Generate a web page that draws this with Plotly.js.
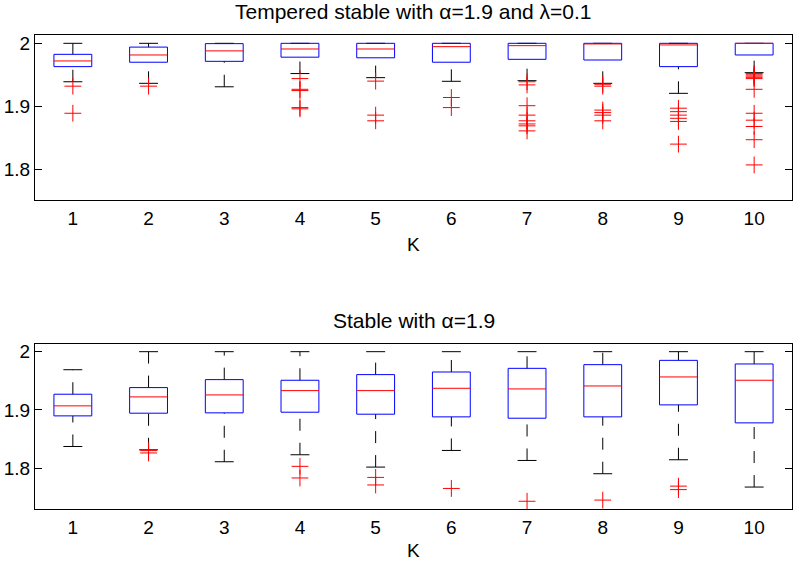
<!DOCTYPE html>
<html><head><meta charset="utf-8">
<script src="https://cdn.plot.ly/plotly-3.0.1.min.js"></script>
<style>html,body{margin:0;padding:0;background:#fff}</style>
</head><body><div id="chart" style="width:795px;height:561px"></div>
<script>
// ---- data ----
const K = [1,2,3,4,5,6,7,8,9,10];
const kLabels = ['1','2','3','4','5','6','7','8','9','10'];
const yTickVals = [1.8, 1.9, 2];
const yTickText = ['1.8', '1.9', '2'];

// Top panel: Tempered stable with alpha=1.9, lambda=0.1
const tsUpper  = [2.0, 2.0, 2.0, 2.0, 2.0, 2.0, 2.0, 2.0, 2.0, 2.0];
const tsQ3     = [1.9825, 1.994, 1.9995, 2.0, 2.0, 2.0, 2.0, 2.0, 2.0, 2.0];
const tsMedian = [1.972, 1.9815, 1.988, 1.991, 1.991, 1.9947, 1.9963, 1.999, 1.9974, 2.0];
const tsQ1     = [1.963, 1.970, 1.9714, 1.978, 1.977, 1.970, 1.9746, 1.9735, 1.963, 1.9815];
const tsLower  = [1.939, 1.9365, 1.931, 1.952, 1.9455, 1.9397, 1.9407, 1.9365, 1.9206, 1.9534];
const tsOutliers = [
  [1.932, 1.889],
  [1.932],
  [],
  [1.944, 1.927, 1.925, 1.898, 1.896],
  [1.940, 1.886, 1.877],
  [1.914, 1.898],
  [1.939, 1.934, 1.901, 1.886, 1.877, 1.872, 1.869, 1.861],
  [1.935, 1.932, 1.894, 1.890, 1.886, 1.877],
  [1.897, 1.8915, 1.886, 1.881, 1.876, 1.840],
  [1.952, 1.950, 1.948, 1.946, 1.944, 1.927, 1.889, 1.878, 1.868, 1.847, 1.807]
];

// Bottom panel: Stable with alpha=1.9
const sUpper  = [1.969, 2.0, 2.0, 2.0, 2.0, 2.0, 2.0, 2.0, 2.0, 2.0];
const sQ3     = [1.9269, 1.9383, 1.952, 1.9509, 1.9606, 1.9651, 1.9714, 1.9777, 1.9851, 1.9789];
const sMedian = [1.9069, 1.9223, 1.9257, 1.9331, 1.9331, 1.9371, 1.936, 1.9411, 1.9566, 1.9509];
const sQ1     = [1.8897, 1.8943, 1.8949, 1.896, 1.8926, 1.888, 1.8857, 1.888, 1.9086, 1.8777];
const sLower  = [1.8371, 1.8314, 1.8109, 1.8229, 1.8017, 1.8303, 1.8131, 1.7903, 1.8143, 1.7674];
const sOutliers = [
  [], [1.830, 1.826], [], [1.803, 1.783], [1.784, 1.771],
  [1.765], [1.743], [1.745], [1.769, 1.763], []
];

// ---- styles ----
const FONT = 'Liberation Sans, Arial, Helvetica, sans-serif';
const BOX_HW = 0.25, CAP_HW = 0.125;

function panelTraces(up, q3, med, q1, lo, outs, xa, ya) {
  const traces = [];
  // whiskers (dashed), each drawn from low value to high value
  K.forEach((k, i) => {
    if (q1[i] > lo[i]) traces.push({x:[k,k], y:[lo[i], q1[i]], xaxis:xa, yaxis:ya, mode:'lines',
      line:{color:'#000', width:1, dash:'12px,12px'}, hoverinfo:'skip'});
    if (up[i] > q3[i]) traces.push({x:[k,k], y:[q3[i], up[i]], xaxis:xa, yaxis:ya, mode:'lines',
      line:{color:'#000', width:1, dash:'12px,12px'}, hoverinfo:'skip'});
  });
  // caps
  const cx = [], cy = [];
  K.forEach((k, i) => {
    cx.push(k-CAP_HW, k+CAP_HW, null, k-CAP_HW, k+CAP_HW, null);
    cy.push(up[i], up[i], null, lo[i], lo[i], null);
  });
  traces.push({x:cx, y:cy, xaxis:xa, yaxis:ya, mode:'lines', line:{color:'#000', width:1}, hoverinfo:'skip'});
  // boxes
  const bx = [], by = [];
  K.forEach((k, i) => {
    bx.push(k-BOX_HW, k+BOX_HW, k+BOX_HW, k-BOX_HW, k-BOX_HW, null);
    by.push(q1[i], q1[i], q3[i], q3[i], q1[i], null);
  });
  traces.push({x:bx, y:by, xaxis:xa, yaxis:ya, mode:'lines', line:{color:'#0000ff', width:1}, hoverinfo:'skip'});
  // medians
  const mx = [], my = [];
  K.forEach((k, i) => {
    mx.push(k-BOX_HW, k+BOX_HW, null);
    my.push(med[i], med[i], null);
  });
  traces.push({x:mx, y:my, xaxis:xa, yaxis:ya, mode:'lines', line:{color:'#ff0000', width:1}, hoverinfo:'skip'});
  // outliers
  const ox = [], oy = [];
  K.forEach((k, i) => outs[i].forEach(v => { ox.push(k); oy.push(v); }));
  traces.push({x:ox, y:oy, xaxis:xa, yaxis:ya, mode:'markers',
    marker:{symbol:'cross-thin-open', size:12, color:'#ff0000', line:{color:'#ff0000', width:1}}});
  return traces;
}

const data = [].concat(
  panelTraces(tsUpper, tsQ3, tsMedian, tsQ1, tsLower, tsOutliers, 'x', 'y'),
  panelTraces(sUpper, sQ3, sMedian, sQ1, sLower, sOutliers, 'x2', 'y2')
);

const TOP_DOM = [0.6519, 1];
const BOT_DOM = [0, 0.3481];

function xAxis(anchor) {
  return {anchor:anchor, domain:[0,1], range:[0.5,10.5], tickmode:'array', tickvals:K, ticktext:kLabels,
    ticks:'', showline:true, mirror:true, linecolor:'#000', linewidth:1, showgrid:false, zeroline:false,
    tickfont:{family:FONT, size:19, color:'#000'}, ticklabelstandoff:1, fixedrange:true};
}
function yAxis(anchor, dom, range) {
  return {anchor:anchor, domain:dom, range:range, tickmode:'array', tickvals:yTickVals, ticktext:yTickText,
    ticks:'inside', ticklen:7, tickcolor:'#000', showline:true, mirror:'ticks', linecolor:'#000', linewidth:1,
    showgrid:false, zeroline:false, tickfont:{family:FONT, size:19, color:'#000'}, fixedrange:true};
}

const layout = {
  width:795, height:561,
  margin:{l:35, r:3, t:35, b:52},
  showlegend:false,
  paper_bgcolor:'#fff', plot_bgcolor:'#fff',
  xaxis: xAxis('y'),
  yaxis: yAxis('x', TOP_DOM, [1.7513, 2.0132]),
  xaxis2: xAxis('y2'),
  yaxis2: yAxis('x2', BOT_DOM, [1.7297, 2.0132]),
  annotations: [
    {text:'Tempered stable with α=1.9 and λ=0.1', xref:'paper', yref:'paper', x:0.5, y:TOP_DOM[1],
     xanchor:'center', yanchor:'bottom', yshift:10, showarrow:false, font:{family:FONT, size:21, color:'#000'}},
    {text:'Stable with α=1.9', xref:'paper', yref:'paper', x:0.5, y:BOT_DOM[1],
     xanchor:'center', yanchor:'bottom', yshift:10, showarrow:false, font:{family:FONT, size:21, color:'#000'}},
    {text:'K', xref:'paper', yref:'paper', x:0.5, y:TOP_DOM[0],
     xanchor:'center', yanchor:'top', yshift:-32, showarrow:false, font:{family:FONT, size:19, color:'#000'}},
    {text:'K', xref:'paper', yref:'paper', x:0.5, y:BOT_DOM[0],
     xanchor:'center', yanchor:'top', yshift:-29, showarrow:false, font:{family:FONT, size:19, color:'#000'}}
  ]
};

Plotly.newPlot('chart', data, layout, {displayModeBar:false, staticPlot:true});
</script>
</body></html>
